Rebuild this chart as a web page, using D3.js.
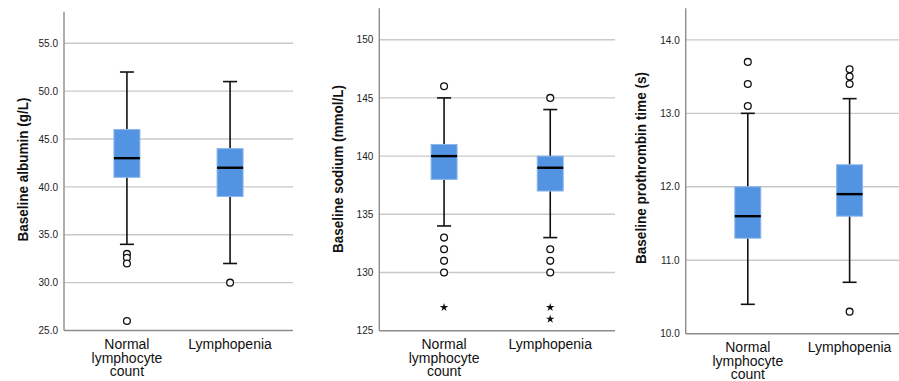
<!DOCTYPE html>
<html>
<head>
<meta charset="utf-8">
<script src="https://cdn.jsdelivr.net/npm/d3@7"></script>
<style>
  html, body { margin: 0; padding: 0; background: #fff; }
  svg { display: block; font-family: "Liberation Sans", Arial, sans-serif; }
</style>
</head>
<body>
<svg id="chart" width="899" height="381"></svg>
<script>
// ---------------- DATA ----------------
const categories = ["Normal lymphocyte count", "Lymphopenia"];
const categoryLines = [["Normal", "lymphocyte", "count"], ["Lymphopenia"]];

// Albumin (g/L)
const albuminTicks = [25, 30, 35, 40, 45, 50, 55];
const albuminWhiskerLow = [34, 32];
const albuminQ1 = [41, 39];
const albuminMedian = [43, 42];
const albuminQ3 = [46, 44];
const albuminWhiskerHigh = [52, 51];
const albuminOutliers = [[33, 32.6, 32, 26], [30]];
const albuminExtremes = [[], []];

// Sodium (mmol/L)
const sodiumTicks = [125, 130, 135, 140, 145, 150];
const sodiumWhiskerLow = [134, 133];
const sodiumQ1 = [138, 137];
const sodiumMedian = [140, 139];
const sodiumQ3 = [141, 140];
const sodiumWhiskerHigh = [145, 144];
const sodiumOutliers = [[146, 133, 132, 131, 130], [145, 132, 131, 130]];
const sodiumExtremes = [[127], [127, 126]];

// Prothrombin time (s)
const ptTicks = [10, 11, 12, 13, 14];
const ptWhiskerLow = [10.4, 10.7];
const ptQ1 = [11.3, 11.6];
const ptMedian = [11.6, 11.9];
const ptQ3 = [12.0, 12.3];
const ptWhiskerHigh = [13.0, 13.2];
const ptOutliers = [[13.1, 13.4, 13.7], [13.4, 13.5, 13.6, 10.3]];
const ptExtremes = [[], []];

// ---------------- LAYOUT ----------------
const panels = [
  { title: "Baseline albumin (g/L)", ticks: albuminTicks, fmt: d3.format(".1f"),
    domain: [25, 58.3], x0: 64, x1: 293, yb: 330.5, yt: 11.7,
    titleOff: 35.7, titleLen: 144, titleY: 169.5,
    lo: albuminWhiskerLow, q1: albuminQ1, med: albuminMedian, q3: albuminQ3, hi: albuminWhiskerHigh,
    out: albuminOutliers, ext: albuminExtremes },
  { title: "Baseline sodium (mmol/L)", ticks: sodiumTicks, fmt: d3.format("d"),
    domain: [125, 152.7], x0: 379.3, x1: 615, yb: 330.7, yt: 8.3,
    titleOff: 36, titleLen: 168, titleY: 169,
    lo: sodiumWhiskerLow, q1: sodiumQ1, med: sodiumMedian, q3: sodiumQ3, hi: sodiumWhiskerHigh,
    out: sodiumOutliers, ext: sodiumExtremes },
  { title: "Baseline prothrombin time (s)", ticks: ptTicks, fmt: d3.format(".1f"),
    domain: [10, 14.43], x0: 685.7, x1: 911.7, yb: 333.7, yt: 8.3,
    titleOff: 39.7, titleLen: 192, titleY: 168,
    lo: ptWhiskerLow, q1: ptQ1, med: ptMedian, q3: ptQ3, hi: ptWhiskerHigh,
    out: ptOutliers, ext: ptExtremes }
];

const svg = d3.select("#chart");
const boxW = 26, capW = 14;

panels.forEach(p => {
  const y = d3.scaleLinear().domain(p.domain).range([p.yb, p.yt]);
  const x = d3.scalePoint().domain(categories).range([p.x0, p.x1]).padding(0.61);
  const g = svg.append("g");

  // grid lines
  g.selectAll(".grid").data(p.ticks.slice(1)).join("line")
    .attr("x1", p.x0).attr("x2", p.x1)
    .attr("y1", d => y(d)).attr("y2", d => y(d))
    .attr("stroke", "#c9c9c9").attr("stroke-width", 1.4);

  // y axis (labels only, axis line drawn separately)
  const yAxis = d3.axisLeft(y).tickValues(p.ticks).tickFormat(p.fmt).tickSize(0).tickPadding(6);
  const ya = g.append("g").attr("transform", `translate(${p.x0},0)`).call(yAxis);
  ya.select(".domain").remove();
  ya.selectAll("text").attr("font-size", 10).attr("fill", "#222")
    .attr("font-family", "'Liberation Sans', Arial, sans-serif");

  // axis lines
  g.append("line").attr("x1", p.x0).attr("x2", p.x0).attr("y1", p.yt).attr("y2", p.yb)
    .attr("stroke", "#8c8c8c").attr("stroke-width", 1.4);
  g.append("line").attr("x1", p.x0).attr("x2", p.x1).attr("y1", p.yb).attr("y2", p.yb)
    .attr("stroke", "#8c8c8c").attr("stroke-width", 1.4);

  // y title
  g.append("text")
    .attr("transform", `translate(${p.x0 - p.titleOff},${p.titleY}) rotate(-90)`)
    .attr("text-anchor", "middle")
    .attr("font-size", 15).attr("font-weight", "bold").attr("fill", "#111")
    .attr("textLength", p.titleLen).attr("lengthAdjust", "spacingAndGlyphs")
    .text(p.title);

  // x labels
  categories.forEach((c, i) => {
    categoryLines[i].forEach((ln, k) => {
      g.append("text").attr("text-anchor", "middle")
        .attr("font-size", 14).attr("fill", "#111")
        .attr("x", x(c)).attr("y", p.yb + 18.3 + k * 13.7).text(ln);
    });
  });

  // boxes
  categories.forEach((c, i) => {
    const cx = x(c);
    // whisker stem
    g.append("line").attr("x1", cx).attr("x2", cx)
      .attr("y1", y(p.hi[i])).attr("y2", y(p.lo[i]))
      .attr("stroke", "#111").attr("stroke-width", 1.6);
    // caps
    [p.hi[i], p.lo[i]].forEach(v => {
      g.append("line").attr("x1", cx - capW / 2).attr("x2", cx + capW / 2)
        .attr("y1", y(v)).attr("y2", y(v))
        .attr("stroke", "#111").attr("stroke-width", 1.6);
    });
    // box
    g.append("rect").attr("x", cx - boxW / 2).attr("width", boxW)
      .attr("y", y(p.q3[i])).attr("height", y(p.q1[i]) - y(p.q3[i]))
      .attr("fill", "#5294e2").attr("stroke", "#8db7ee").attr("stroke-width", 1);
    // median
    g.append("line").attr("x1", cx - boxW / 2).attr("x2", cx + boxW / 2)
      .attr("y1", y(p.med[i])).attr("y2", y(p.med[i]))
      .attr("stroke", "#000").attr("stroke-width", 2.4);
    // outliers
    g.selectAll(null).data(p.out[i]).join("circle")
      .attr("cx", cx).attr("cy", d => y(d)).attr("r", 3.4)
      .attr("fill", "#fff").attr("stroke", "#111").attr("stroke-width", 1.3);
    // extremes
    g.selectAll(null).data(p.ext[i]).join("path")
      .attr("transform", d => `translate(${cx},${y(d)})`)
      .attr("d", d3.symbol(d3.symbolStar, 22))
      .attr("fill", "#111");
  });
});
</script>
</body>
</html>
